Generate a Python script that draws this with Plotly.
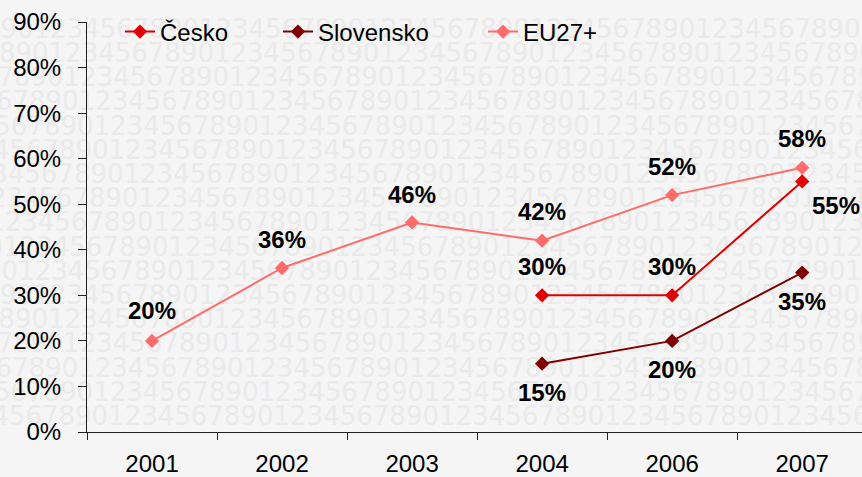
import plotly.graph_objects as go

# ---- data ----
categories = ["2001", "2002", "2003", "2004", "2006", "2007"]
cesko = [None, None, None, 30, 30, 55]
slovensko = [None, None, None, 15, 20, 35]
eu27 = [20, 36, 46, 42, 52, 58]
series_names = ["Česko", "Slovensko", "EU27+"]
y_ticks = [0, 10, 20, 30, 40, 50, 60, 70, 80, 90]
y_tick_labels = [f"{v}%" for v in y_ticks]

# ---- styling ----
W, H = 862, 477
L, R, T, B = 87, 0, 22, 45
PW, PH = W - L - R, H - T - B
colors = ["#e00000", "#7f0000", "#ff6b6b"]
FONT = "Liberation Sans, Arial, sans-serif"

fig = go.Figure()

# background digit pattern (decorative watermark) on a hidden pixel axis pair
digit_w = 1303 / 2048 * 26
row_y0, row_dy = 7, 24.2
nchars = 56
bg_x, bg_y, bg_t = [], [], []
for r in range(20):
    ypx = row_y0 + row_dy * r
    p = (47 + 15 * (r - 3)) % (10 * digit_w)
    n = int(p // digit_w) + 1
    xstart = p - n * digit_w
    d0 = (-n) % 10
    bg_t.append("".join(str((d0 + j) % 10) for j in range(nchars)))
    bg_x.append(xstart + nchars * digit_w / 2 - L)
    bg_y.append(T + PH - ypx)
fig.add_trace(go.Scatter(
    x=bg_x, y=bg_y, text=bg_t, mode="text", textposition="middle center",
    textfont=dict(family="DejaVu Sans", size=26, color="#eaeaea"),
    cliponaxis=False, hoverinfo="skip", showlegend=False, xaxis="x", yaxis="y",
))

legends = ["legend", "legend2", "legend3"]
for name, vals, col, lg in zip(series_names, [cesko, slovensko, eu27], colors, legends):
    fig.add_trace(go.Scatter(
        x=categories, y=vals, name=name, mode="lines+markers",
        line=dict(color=col, width=2),
        marker=dict(symbol="diamond", size=11, color=col),
        connectgaps=False, legend=lg, cliponaxis=False,
        xaxis="x2", yaxis="y2",
    ))

# data labels (offsets in px: xshift, yshift)
label_offsets = {
    "Česko": [None, None, None, (0, 29), (0, 29), (34, -24)],
    "Slovensko": [None, None, None, (0, -29), (0, -29), (0, -29)],
    "EU27+": [(0, 30), (0, 29), (0, 28), (0, 29), (0, 29), (0, 29)],
}
annotations = []
for name, vals in zip(series_names, [cesko, slovensko, eu27]):
    for i, (v, off) in enumerate(zip(vals, label_offsets[name])):
        if v is None:
            continue
        annotations.append(dict(
            x=i, y=v, xref="x2", yref="y2", text=f"<b>{v}%</b>", showarrow=False,
            xshift=off[0], yshift=off[1],
            font=dict(family=FONT, size=24, color="black"),
        ))

legend_text_x = [162, 320, 525]
leg_common = dict(orientation="h", yanchor="middle", xanchor="left",
                  font=dict(family=FONT, size=24, color="black"),
                  bgcolor="rgba(0,0,0,0)", borderwidth=0)
layout_legends = {}
for lg, tx in zip(legends, legend_text_x):
    layout_legends[lg] = dict(leg_common, x=(tx - 42 - L) / PW, y=(T + PH - 32) / PH)

fig.update_layout(
    width=W, height=H,
    margin=dict(l=L, r=R, t=T, b=B, pad=0),
    paper_bgcolor="#f5f5f5", plot_bgcolor="rgba(0,0,0,0)",
    font=dict(family=FONT, size=24, color="black"),
    showlegend=True,
    annotations=annotations,
    xaxis=dict(range=[0, PW], visible=False, fixedrange=True),
    yaxis=dict(range=[0, PH], visible=False, fixedrange=True),
    xaxis2=dict(type="category", overlaying="x", anchor="y2",
                range=[-0.5, 5.46], showline=True, linecolor="#222",
                linewidth=1, ticks="outside", tickson="boundaries", ticklen=7,
                tickcolor="#222", showgrid=False, zeroline=False,
                tickfont=dict(family=FONT, size=24, color="black"),
                ticklabelstandoff=10),
    yaxis2=dict(overlaying="y", anchor="x2", side="left",
                range=[0, 90], tickvals=y_ticks, ticktext=y_tick_labels,
                showline=True, linecolor="#222", linewidth=1, ticks="outside",
                ticklen=8, tickcolor="#222", showgrid=False, zeroline=False,
                tickfont=dict(family=FONT, size=24, color="black"),
                ticklabelstandoff=12),
    **layout_legends,
)

fig.write_html(
    "out.html",
    config={"displayModeBar": False},
    post_script="document.documentElement.style.margin='0';"
                "document.body.style.margin='0';"
                "document.body.style.overflow='hidden';",
)
